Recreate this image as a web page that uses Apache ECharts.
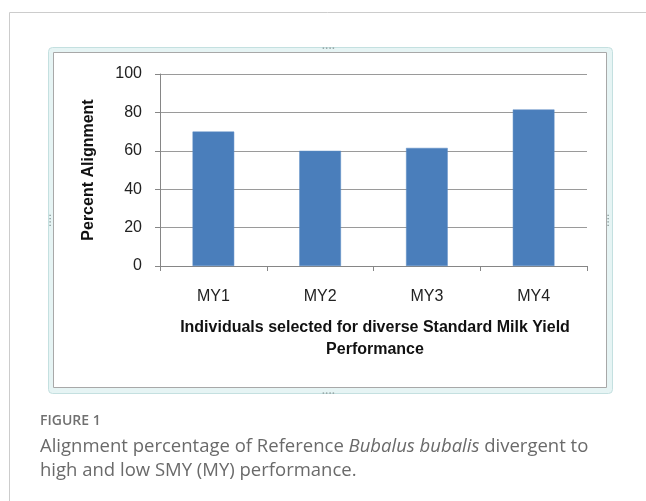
<!DOCTYPE html>
<html>
<head>
<meta charset="utf-8">
<script src="https://cdn.jsdelivr.net/npm/echarts@6/dist/echarts.min.js"></script>
<style>
html,body{margin:0;padding:0;background:#fff;}
#c{width:646px;height:501px;}
</style>
</head>
<body>
<div id="c"></div>
<script>
const categories = ['MY1', 'MY2', 'MY3', 'MY4'];
const alignment = [70, 60, 61.5, 81.5];
const yTicks = [0, 20, 40, 60, 80, 100];
const yTitle = 'Percent Alignment';
const xTitle = 'Individuals selected for diverse Standard Milk Yield\nPerformance';

const chart = echarts.init(document.getElementById('c'), null, {renderer: 'canvas'});
const option = {
  animation: false,
  backgroundColor: '#fff',
  grid: {left: 160, right: 59, top: 74, bottom: 235, containLabel: false},
  xAxis: {
    type: 'category',
    data: categories,
    axisLine: {show: true, lineStyle: {color: '#868686', width: 1}},
    axisTick: {show: true, length: 5, lineStyle: {color: '#868686'}},
    axisLabel: {margin: 23, fontFamily: 'Liberation Sans', fontSize: 16, color: '#222'},
    splitLine: {show: false}
  },
  yAxis: {
    type: 'value',
    min: yTicks[0],
    max: yTicks[yTicks.length - 1],
    interval: 20,
    axisLine: {show: true, lineStyle: {color: '#868686', width: 1}},
    axisTick: {show: true, length: 5, lineStyle: {color: '#868686'}},
    axisLabel: {margin: 18, fontFamily: 'Liberation Sans', fontSize: 16, color: '#222'},
    splitLine: {show: true, lineStyle: {color: '#9a9a9a', width: 1}}
  },
  series: [{
    type: 'bar',
    data: alignment,
    barWidth: '39%',
    itemStyle: {color: '#4a7ebb', borderColor: '#5a8ac4', borderWidth: 0.5}
  }],
  graphic: [
    // outer page border lines
    {type: 'line', shape: {x1: 9.5, y1: 12.5, x2: 646, y2: 12.5}, style: {stroke: '#cccccc', lineWidth: 1}, z: -10},
    {type: 'line', shape: {x1: 9.5, y1: 12.5, x2: 9.5, y2: 501}, style: {stroke: '#cccccc', lineWidth: 1}, z: -10},
    // chart frame
    {type: 'rect', shape: {x: 48.5, y: 47.5, width: 564, height: 346, r: 4}, style: {fill: '#e6f4f4', stroke: '#c4e0e0', lineWidth: 1}, z: -9, silent: true},
    {type: 'rect', shape: {x: 53.5, y: 52.5, width: 553, height: 335}, style: {fill: '#ffffff', stroke: '#a8a8a8', lineWidth: 1}, z: -8, silent: true},
    // handles
    {type: 'text', left: 322, top: 44, style: {text: '····', font: 'bold 10px Liberation Sans', fill: '#9aa'}, z: -7},
    {type: 'text', left: 322, top: 389, style: {text: '····', font: 'bold 10px Liberation Sans', fill: '#9aa'}, z: -7},
    {type: 'text', x: 51, y: 220, rotation: Math.PI / 2, style: {text: '····', font: 'bold 10px Liberation Sans', fill: '#9aa', textAlign: 'center', textVerticalAlign: 'middle'}, z: -7},
    {type: 'text', x: 609, y: 220, rotation: Math.PI / 2, style: {text: '····', font: 'bold 10px Liberation Sans', fill: '#9aa', textAlign: 'center', textVerticalAlign: 'middle'}, z: -7},
    // y title
    {type: 'text', x: 89, y: 170, rotation: Math.PI / 2,
     style: {text: yTitle, font: 'bold 16px Liberation Sans', fill: '#111', textAlign: 'center', textVerticalAlign: 'middle'}},
    // x title
    {type: 'text', x: 375, y: 317,
     style: {text: xTitle, font: 'bold 16px Liberation Sans', fill: '#111', textAlign: 'center', lineHeight: 22}},
    // caption
    {type: 'text', x: 40, y: 414,
     style: {text: 'FIGURE 1', font: '600 14px "Open Sans"', fill: '#707070'}},
    {type: 'text', x: 40, y: 435,
     style: {
       text: '{n|Alignment percentage of Reference }{i|Bubalus bubalis}{n| divergent to}\n{n|high and low SMY (MY) performance.}',
       rich: {
         n: {fontFamily: 'Open Sans', fontSize: 18.5, fill: '#6a6a6a', color: '#6a6a6a', lineHeight: 24},
         i: {fontFamily: 'Open Sans', fontStyle: 'italic', fontSize: 18.5, fill: '#6a6a6a', color: '#6a6a6a', lineHeight: 24}
       }
     }}
  ]
};
chart.setOption(option);
</script>
</body>
</html>
